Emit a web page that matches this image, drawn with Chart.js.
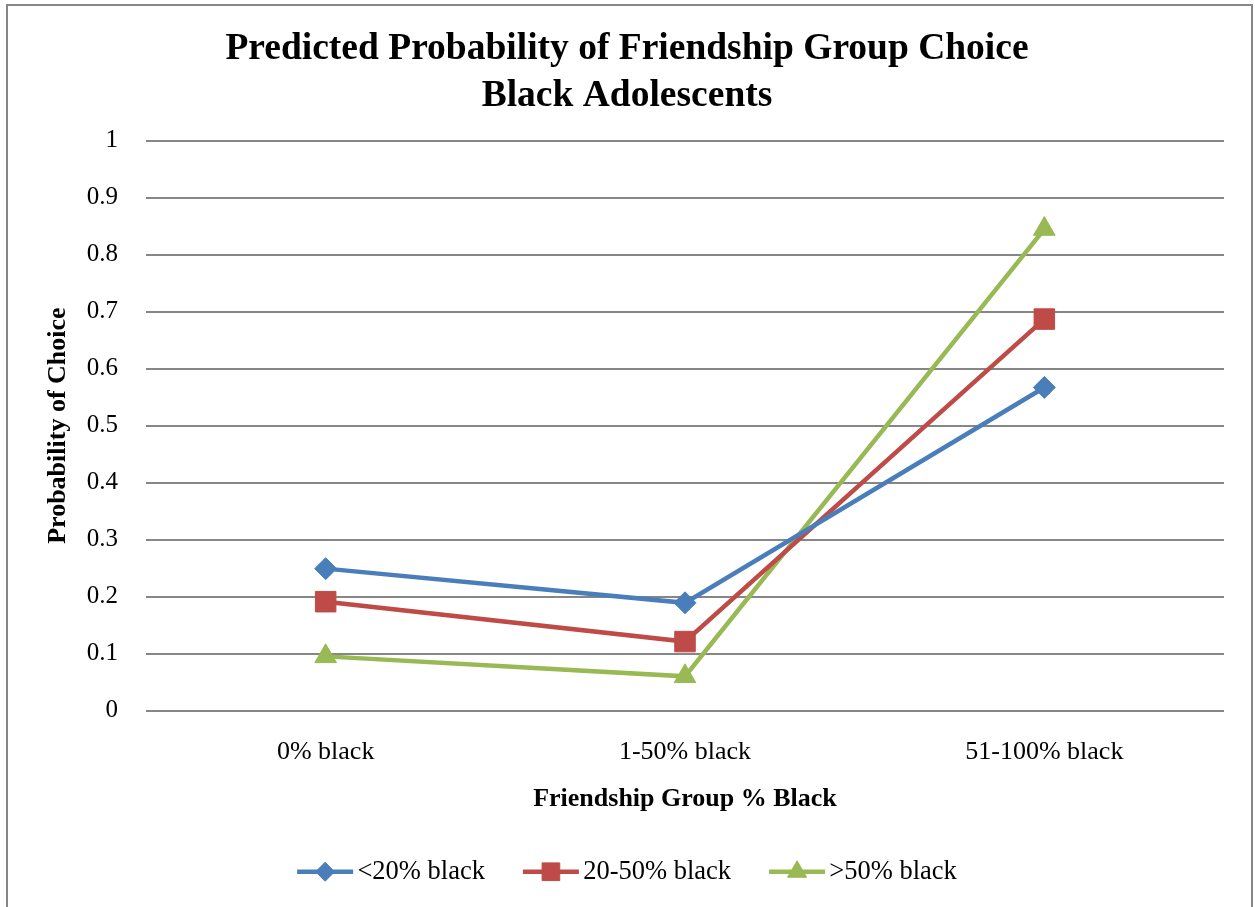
<!DOCTYPE html>
<html lang="en">
<head>
    <meta charset="UTF-8">
    <title>Predicted Probability of Friendship Group Choice</title>
    <script src="https://cdn.jsdelivr.net/npm/chart.js"></script>
    <style>
        body {
            margin: 0;
            background: #fff;
        }
        #wrap {
            position: relative;
            width: 1255px;
            height: 907px;
            overflow: hidden;
        }
        #frame {
            position: absolute;
            left: 6px;
            top: 4px;
            width: 1243px;
            height: 960px;
            border: 2px solid #878787;
        }
        canvas {
            position: absolute;
            left: 0;
            top: 0;
        }
    </style>
</head>
<body>
    <div id="wrap">
        <div id="frame"></div>
        <canvas id="choiceChart" width="1255" height="907"></canvas>
    </div>

    <script>
        // values
        const categories = ['0% black', '1-50% black', '51-100% black'];
        const seriesNames = ['<20% black', '20-50% black', '>50% black'];
        const lowShare = [0.249, 0.189, 0.567];
        const midShare = [0.191, 0.121, 0.687];
        const highShare = [0.095, 0.060, 0.845];
        const yTicks = [0, 0.1, 0.2, 0.3, 0.4, 0.5, 0.6, 0.7, 0.8, 0.9, 1];

        const serif = "'Liberation Serif', 'Times New Roman', serif";
        Chart.defaults.color = '#000';
        Chart.defaults.font.family = serif;

        const colors = ['#4a7ebb', '#be4b48', '#98b954'];
        const markers = [
            { style: 'rectRot', radius: 11, legendRadius: 9.5 },
            { style: 'rect', radius: 14.5, legendRadius: 12.5 },
            { style: 'triangle', radius: 12.5, legendRadius: 11 }
        ];

        function makeSet(i, values) {
            return {
                label: seriesNames[i],
                data: values,
                borderColor: colors[i],
                backgroundColor: colors[i],
                borderWidth: 4.5,
                pointStyle: markers[i].style,
                pointRadius: markers[i].radius,
                pointHoverRadius: markers[i].radius,
                pointBorderWidth: 1,
                tension: 0
            };
        }

        // legend entries: line with marker, like the office chart
        const legendMarkers = {
            id: 'legendMarkers',
            afterDraw(chart) {
                const ctx = chart.ctx;
                const boxes = chart.legend.legendHitBoxes;
                boxes.forEach((hit, i) => {
                    const cy = hit.top + hit.height / 2;
                    ctx.save();
                    ctx.fillStyle = colors[i];
                    ctx.strokeStyle = colors[i];
                    ctx.fillRect(hit.left, cy - 2.25, 56, 4.5);
                    ctx.lineWidth = 1;
                    Chart.helpers.drawPoint(ctx, {
                        pointStyle: markers[i].style,
                        radius: markers[i].legendRadius,
                        rotation: 0,
                        borderWidth: 1
                    }, hit.left + 28, cy);
                    ctx.restore();
                });
            }
        };

        const ctx = document.getElementById('choiceChart').getContext('2d');
        new Chart(ctx, {
            type: 'line',
            data: {
                labels: categories,
                datasets: [
                    makeSet(0, lowShare),
                    makeSet(1, midShare),
                    makeSet(2, highShare)
                ]
            },
            options: {
                responsive: false,
                animation: false,
                layout: {
                    padding: { top: 20, left: 30, right: 31, bottom: 12 }
                },
                plugins: {
                    title: {
                        display: true,
                        text: ['Predicted Probability of Friendship Group Choice', 'Black Adolescents'],
                        font: { size: 37.5, weight: 'bold', lineHeight: 1.25 },
                        padding: { top: 6, bottom: 21 }
                    },
                    legend: {
                        position: 'bottom',
                        labels: {
                            boxWidth: 47,
                            padding: 38,
                            font: { size: 26.5 },
                            generateLabels(chart) {
                                const items = Chart.defaults.plugins.legend.labels.generateLabels(chart);
                                items.forEach(item => {
                                    item.fillStyle = 'rgba(0,0,0,0)';
                                    item.strokeStyle = 'rgba(0,0,0,0)';
                                    item.lineWidth = 0;
                                });
                                return items;
                            }
                        }
                    },
                    tooltip: { enabled: false }
                },
                scales: {
                    x: {
                        offset: true,
                        grid: { display: false },
                        border: { display: false },
                        ticks: { font: { size: 26 }, padding: 18 },
                        title: {
                            display: true,
                            text: 'Friendship Group % Black',
                            font: { size: 26, weight: 'bold' },
                            padding: { top: 0, bottom: 5.4 }
                        },
                        afterFit(scale) { scale.height = 110; }
                    },
                    y: {
                        min: 0,
                        max: 1,
                        grid: { color: '#868686', lineWidth: 2, drawTicks: false },
                        border: { display: false },
                        afterBuildTicks(scale) {
                            scale.ticks = yTicks.map(v => ({ value: v }));
                        },
                        ticks: {
                            font: { size: 25 },
                            padding: 28,
                            callback: v => String(v)
                        },
                        title: {
                            display: true,
                            text: 'Probability of Choice',
                            font: { size: 26, weight: 'bold' },
                            padding: { top: 12.5, bottom: 0 }
                        },
                        afterFit(scale) { scale.width = 116; }
                    }
                }
            },
            plugins: [legendMarkers]
        });
    </script>
</body>
</html>
